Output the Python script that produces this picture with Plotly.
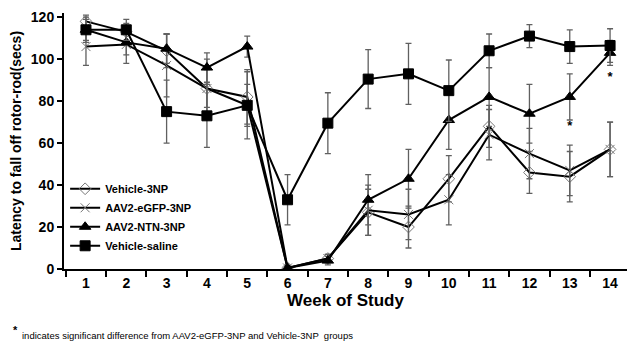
import plotly.graph_objects as go

weeks = [str(w) for w in range(1, 15)]

vehicle_3np = [118, 113, 104, 86, 82, 0.5, 5, 27, 20, 43, 68, 46, 44, 57]
vehicle_3np_err = [3, 4, 8, 9, 13, 1, 2, 11, 10, 11, 10, 10, 12, 13]

egfp_3np = [106, 107, 97, 86, 78, 0.5, 5, 28, 26, 33, 64, 55, 47, 57]
egfp_3np_err = [9, 9, 15, 14, 16, 1, 2, 12, 12, 12, 12, 12, 12, 13]

ntn_3np = [114, 108, 105, 96, 106, 0.5, 4, 33, 43, 71, 82, 74, 82, 103]
ntn_3np_err = [5, 6, 7, 7, 5, 1, 2, 12, 14, 14, 14, 14, 11, 6]

saline = [114, 114, 75, 73, 78, 33, 69.5, 90.5, 93, 85, 104, 111, 106, 106.5]
saline_err = [6, 5, 15, 15, 10, 12, 14.5, 14, 14.5, 14.6, 8, 5.5, 8, 8]

star_weeks = ["13", "14"]
star_vals = [68, 91]

FONT = "Liberation Sans, Arial, sans-serif"
ERR_COLOR = "#606060"

fig = go.Figure()

def add(name, y, err, symbol, msize, mcolor, mline):
    fig.add_trace(go.Scatter(
        x=weeks, y=y, name=name, mode="lines+markers",
        line=dict(color="black", width=2),
        marker=dict(symbol=symbol, size=msize, color=mcolor,
                    line=dict(color=mline, width=1)),
        error_y=dict(type="data", array=err, visible=True,
                     color=ERR_COLOR, thickness=1.3, width=3),
    ))

add("Vehicle-3NP", vehicle_3np, vehicle_3np_err, "diamond-open", 9, "#777777", "#777777")
add("AAV2-eGFP-3NP", egfp_3np, egfp_3np_err, "x-thin-open", 9, "#777777", "#777777")
add("AAV2-NTN-3NP", ntn_3np, ntn_3np_err, "triangle-up", 10, "black", "black")
add("Vehicle-saline", saline, saline_err, "square", 10, "black", "black")

fig.add_trace(go.Scatter(
    x=star_weeks, y=star_vals, mode="text", text=["*", "*"],
    textfont=dict(family=FONT, size=13, color="black", weight="bold"),
    showlegend=False, hoverinfo="skip",
))

fig.update_layout(
    width=627, height=342,
    margin=dict(l=64, r=0, t=13, b=73),
    paper_bgcolor="white", plot_bgcolor="white",
    font=dict(family=FONT, color="black"),
    showlegend=True,
    legend=dict(
        x=0.002, y=0.37, xanchor="left", yanchor="top",
        bgcolor="rgba(0,0,0,0)",
        font=dict(family=FONT, size=11, color="black", weight="bold"),
        tracegroupgap=0, itemwidth=30,
    ),
    xaxis=dict(
        type="category", range=[-0.545, 13.42], automargin=False,
        showline=True, linecolor="black", linewidth=2,
        ticks="outside", tickson="boundaries", ticklen=6, tickcolor="black", tickwidth=1.5,
        showgrid=False, zeroline=False,
        tickfont=dict(family=FONT, size=14, color="black", weight="bold"),
        title=dict(text="Week of Study", standoff=4,
                   font=dict(family=FONT, size=17, color="black", weight="bold")),
    ),
    yaxis=dict(
        range=[0, 122], tickvals=[0, 20, 40, 60, 80, 100, 120], automargin=False,
        showline=True, linecolor="black", linewidth=2,
        ticks="outside", ticklen=5, tickcolor="black", tickwidth=1.5,
        showgrid=False, zeroline=False,
        tickfont=dict(family=FONT, size=14, color="black", weight="bold"),
        title=dict(text="Latency to fall off rotor-rod(secs)", standoff=6,
                   font=dict(family=FONT, size=14, color="black", weight="bold")),
    ),
)

fig.add_annotation(
    xref="paper", yref="paper", x=-0.094, y=-0.238, xanchor="left", yanchor="middle",
    text="*", showarrow=False,
    font=dict(family=FONT, size=11, color="black", weight="bold"),
)
fig.add_annotation(
    xref="paper", yref="paper", x=-0.079, y=-0.258, xanchor="left", yanchor="middle",
    text="indicates significant difference from AAV2-eGFP-3NP and Vehicle-3NP  groups",
    showarrow=False,
    font=dict(family=FONT, size=9.5, color="black"),
)

fig.write_html("out.html", config={"displayModeBar": False},
               post_script="document.body.style.margin='0';")
